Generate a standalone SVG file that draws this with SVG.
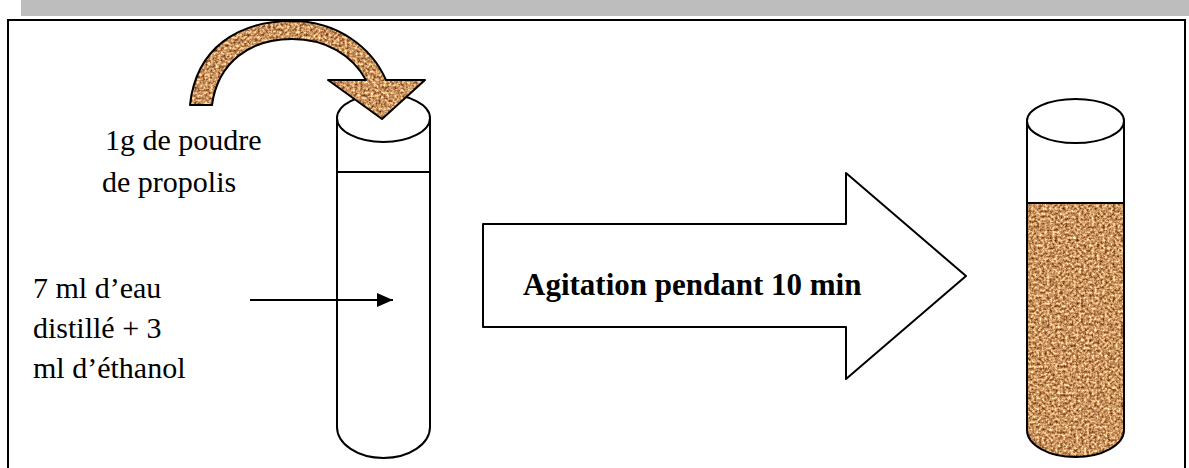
<svg xmlns="http://www.w3.org/2000/svg" width="1189" height="468" viewBox="0 0 1189 468">
  <style>
    .outline { fill: none; stroke: #000; stroke-width: 2; stroke-linejoin: round; }
    text { font-family: "Liberation Serif", "Times New Roman", "DejaVu Serif", serif; font-size: 30px; fill: #000; }
    .bold { font-weight: bold; font-size: 31px; }
  </style>
  <defs>
    <!-- speckled propolis texture -->
    <filter id="propolis" x="0" y="0" width="1" height="1" color-interpolation-filters="sRGB">
      <feTurbulence type="fractalNoise" baseFrequency="0.38" numOctaves="3" seed="11" result="noise"/>
      <feColorMatrix in="noise" type="matrix"
        values="1.1 0 0 0 0.24
                1.2 0 0 0 -0.02
                1.0 0 0 0 -0.12
                0 0 0 0 1" result="tint"/>
      <feComposite in="tint" in2="SourceAlpha" operator="in"/>
    </filter>
    <marker id="head" markerWidth="16" markerHeight="14" refX="16" refY="7" orient="auto" markerUnits="userSpaceOnUse">
      <polygon points="0,0 16,7 0,14" fill="#000"/>
    </marker>
    <path id="curved" d="M190,105 C196,48 238,21 292,21 C338,21 372,48 386,80 L425,80 L382,119 L328,80 L366,80 C352,55 326,39 292,39 C250,39 218,62 212,105 Z"/>
    <path id="liquid" d="M1027,203 H1124 V430 A48.5,27 0 0 1 1027,430 Z"/>
  </defs>

  <!-- page header band and frame -->
  <rect x="21" y="0" width="1168" height="16" fill="#BDBDBD"/>
  <rect x="8" y="20" width="1177" height="470" fill="#fff" stroke="#000" stroke-width="2"/>

  <!-- first tube: solvent -->
  <g id="tube-solvent">
    <path class="outline" d="M337,118 V427 A46.5,31 0 0 0 430,427 V118"/>
    <ellipse class="outline" cx="383.5" cy="118" rx="46.5" ry="24" fill="#fff"/>
    <line class="outline" x1="337" y1="172" x2="430" y2="172"/>
  </g>

  <!-- second tube: extract after stirring -->
  <g id="tube-extract">
    <use href="#liquid" fill="#C8935F" filter="url(#propolis)"/>
    <path class="outline" d="M1027,121 V430 A48.5,27 0 0 0 1124,430 V121"/>
    <line class="outline" x1="1027" y1="203" x2="1124" y2="203"/>
    <ellipse class="outline" cx="1075.5" cy="121" rx="48.5" ry="22" fill="#fff"/>
  </g>

  <!-- process step -->
  <g id="step-agitation">
    <polygon class="outline" stroke-width="1.5" fill="#fff" points="483,224 846,224 846,173 966,276 846,379 846,327 483,327"/>
    <text class="bold" x="523" y="295" font-family="Liberation Serif, serif">Agitation pendant 10 min</text>
  </g>

  <!-- labels -->
  <g id="label-powder" font-family="Liberation Serif, serif">
    <text x="105" y="150">1g de poudre</text>
    <text x="102" y="192">de propolis</text>
  </g>
  <g id="label-solvent" font-family="Liberation Serif, serif">
    <text x="33" y="298">7 ml d’eau</text>
    <text x="33" y="338">distillé + 3</text>
    <text x="33" y="378">ml d’éthanol</text>
  </g>

  <g id="connectors">
    <use href="#curved" fill="#C8935F" filter="url(#propolis)"/>
    <use href="#curved" class="outline"/>
    <line x1="250" y1="300" x2="393" y2="300" stroke="#000" stroke-width="2" marker-end="url(#head)"/>
  </g>
</svg>
